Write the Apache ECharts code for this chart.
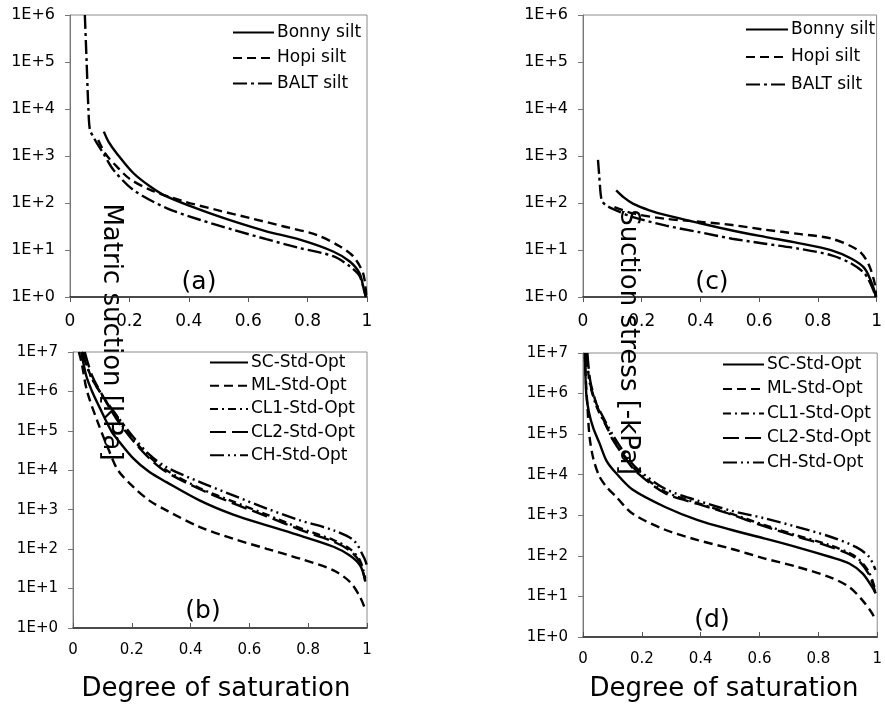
<!DOCTYPE html>
<html>
<head>
<meta charset="utf-8">
<script src="https://cdn.jsdelivr.net/npm/echarts@6/dist/echarts.min.js"></script>
<style>
  html, body { margin: 0; padding: 0; background: #fff; }
  #chart { width: 885px; height: 706px; }
</style>
</head>
<body>
<div id="chart"></div>
<script>
// ---- Panel (a): matric suction of the silts [kPa] vs degree of saturation ----
const satBonnyA  = [0.114, 0.13, 0.157, 0.213, 0.27, 0.325, 0.437, 0.549, 0.661, 0.774, 0.886, 0.942, 0.975, 0.99, 0.997];
const sucBonnyA  = [3300, 2000, 1150, 435, 225, 138, 72, 41, 25, 16.6, 9.3, 5.7, 3.2, 1.4, 1];
const satHopiA   = [0.095, 0.12, 0.157, 0.2, 0.27, 0.38, 0.49, 0.605, 0.717, 0.83, 0.908, 0.953, 0.987, 0.998];
const sucHopiA   = [2200, 1100, 600, 330, 190, 110, 72, 48, 32, 21, 12, 7.4, 3.2, 1];
const satBaltA   = [0.05, 0.056, 0.062, 0.067, 0.078, 0.09, 0.112, 0.146, 0.213, 0.325, 0.437, 0.549, 0.661, 0.774, 0.886, 0.942, 0.975, 0.996];
const sucBaltA   = [1e6, 1e5, 1e4, 3600, 2600, 1900, 1150, 510, 190, 78, 44, 27, 17, 11, 7.4, 4.5, 2.8, 1];

// ---- Panel (c): suction stress of the silts [-kPa] ----
const satBonnyC  = [0.113, 0.14, 0.17, 0.226, 0.283, 0.395, 0.508, 0.62, 0.734, 0.847, 0.915, 0.96, 0.989, 0.997];
const sucBonnyC  = [186, 130, 97, 70, 55, 37.5, 26, 19, 14, 9.8, 6.5, 4, 1.6, 1];
const satHopiC   = [0.107, 0.17, 0.283, 0.395, 0.508, 0.62, 0.734, 0.847, 0.938, 0.972, 0.994, 0.998];
const sucHopiC   = [82, 60, 46, 40, 34, 27, 22, 17.4, 9.8, 5.1, 1.9, 1];
const satBaltC   = [0.051, 0.055, 0.06, 0.065, 0.079, 0.113, 0.17, 0.283, 0.395, 0.508, 0.62, 0.734, 0.847, 0.915, 0.96, 0.989, 0.996];
const sucBaltC   = [830, 400, 160, 110, 89, 70, 50, 33, 24, 17.4, 13.6, 10.7, 7.7, 5.1, 3.1, 1.4, 1];

// ---- Panel (b): matric suction of the compacted soils [kPa] ----
const satScB  = [0.028, 0.045, 0.065, 0.09, 0.13, 0.148, 0.205, 0.26, 0.318, 0.432, 0.545, 0.659, 0.773, 0.886, 0.943, 0.977, 0.994];
const sucScB  = [1e7, 2.5e6, 1e6, 4e5, 1e5, 6.5e4, 2e4, 9000, 5000, 1700, 750, 400, 220, 115, 68, 38, 16];
const satMlB  = [0.02, 0.03, 0.048, 0.085, 0.12, 0.153, 0.205, 0.26, 0.318, 0.432, 0.545, 0.659, 0.773, 0.886, 0.943, 0.977, 0.994];
const sucMlB  = [1e7, 5e6, 1e6, 1.6e5, 3.5e4, 1e4, 3800, 1700, 960, 360, 183, 102, 57, 29, 14.5, 6, 3];
const satCl1B = [0.035, 0.06, 0.095, 0.148, 0.205, 0.26, 0.318, 0.432, 0.545, 0.659, 0.773, 0.886, 0.943, 0.977, 0.994];
const sucCl1B = [1e7, 2.5e6, 9e5, 2.2e5, 6e4, 2.2e4, 1e4, 3500, 1600, 750, 340, 170, 100, 50, 18];
const satCl2B = [0.04, 0.065, 0.1, 0.148, 0.205, 0.26, 0.318, 0.432, 0.545, 0.659, 0.773, 0.886, 0.943, 0.977, 0.994];
const sucCl2B = [1e7, 2.5e6, 8e5, 2e5, 5.5e4, 2e4, 9000, 3300, 1450, 680, 310, 155, 90, 45, 15];
const satChB  = [0.03, 0.06, 0.09, 0.148, 0.205, 0.26, 0.318, 0.432, 0.545, 0.659, 0.773, 0.886, 0.955, 0.989, 0.999];
const sucChB  = [1e7, 2.5e6, 1e6, 2.5e5, 7e4, 2.5e4, 1.2e4, 5000, 2300, 1070, 535, 300, 166, 63, 40];

// ---- Panel (d): suction stress of the compacted soils [-kPa] ----
const satScD  = [0.007, 0.011, 0.02, 0.035, 0.056, 0.08, 0.112, 0.168, 0.279, 0.39, 0.503, 0.615, 0.726, 0.838, 0.905, 0.95, 0.983, 0.994];
const sucScD  = [8e6, 1e6, 3.5e5, 1.4e5, 6e4, 2.2e4, 1.1e4, 4300, 1600, 760, 440, 270, 165, 95, 65, 37, 17, 12];
const satMlD  = [0.006, 0.01, 0.015, 0.022, 0.035, 0.056, 0.08, 0.112, 0.168, 0.279, 0.39, 0.503, 0.615, 0.726, 0.838, 0.905, 0.95, 0.983, 0.994];
const sucMlD  = [1e7, 2e6, 5e5, 9e4, 2.5e4, 9000, 5000, 2900, 1100, 440, 245, 150, 87, 54, 30, 17, 8, 3.8, 2.6];
const satCl1D = [0.012, 0.022, 0.045, 0.075, 0.1, 0.14, 0.18, 0.279, 0.39, 0.503, 0.615, 0.726, 0.838, 0.927, 0.972, 0.994];
const sucCl1D = [1e7, 2e6, 5e5, 1.8e5, 8e4, 3e4, 1.3e4, 3800, 2000, 1100, 580, 320, 185, 95, 40, 14];
const satCl2D = [0.015, 0.025, 0.05, 0.08, 0.1, 0.14, 0.18, 0.279, 0.39, 0.503, 0.615, 0.726, 0.838, 0.927, 0.972, 0.994];
const sucCl2D = [1e7, 2e6, 4.5e5, 1.6e5, 7.5e4, 2.8e4, 1.2e4, 3500, 1900, 1050, 540, 300, 170, 88, 35, 12];
const satChD  = [0.01, 0.02, 0.04, 0.07, 0.1, 0.14, 0.18, 0.279, 0.39, 0.503, 0.615, 0.726, 0.838, 0.927, 0.972, 0.994];
const sucChD  = [1e7, 2.5e6, 7e5, 2.5e5, 1e5, 3.5e4, 1.5e4, 4500, 2300, 1300, 850, 520, 300, 166, 95, 45];

const xTicks = [0, 0.2, 0.4, 0.6, 0.8, 1];
const siltNames = ['Bonny silt', 'Hopi silt', 'BALT silt'];
const soilNames = ['SC-Std-Opt', 'ML-Std-Opt', 'CL1-Std-Opt', 'CL2-Std-Opt', 'CH-Std-Opt'];
const panelTags = ['(a)', '(b)', '(c)', '(d)'];

const FONT = 'DejaVu Sans';
const DASH = {
  solid: 'solid',
  dashed: [9, 5],
  dashDot: [14, 4, 3, 4],
  shortDashDot: [8, 4, 2, 4],
  longDash: [16, 6],
  dashDotDot: [14, 4, 2, 4, 2, 4]
};

const zip = (xs, ys) => xs.map((x, i) => [x, ys[i]]);

// plot rectangles (left, top, width, height) of the four panels
const grids = [
  { left: 70,  top: 15,  width: 297, height: 282 },  // (a)
  { left: 73,  top: 352, width: 294, height: 276 },  // (b)
  { left: 583, top: 15,  width: 295, height: 282 },  // (c)
  { left: 583, top: 353, width: 298, height: 284 }   // (d)
].map(g => Object.assign({ show: true, borderColor: '#8c8c8c', borderWidth: 1, backgroundColor: 'transparent' }, g));

function xAxisFor(idx, ticksInside, fontSize) {
  return {
    type: 'value', gridIndex: idx, min: 0, max: 1, interval: 0.2,
    axisLine: { show: true, onZero: false, lineStyle: { color: '#222', width: 1.5 } },
    axisTick: { show: true, inside: ticksInside, length: 5, lineStyle: { color: '#555' } },
    axisLabel: { show: true, margin: ticksInside ? 15 : 16, fontFamily: FONT, fontSize: fontSize, color: '#000',
      showMinLabel: true, showMaxLabel: true,
      formatter: v => xTicks.includes(Math.round(v * 10) / 10) ? String(Math.round(v * 10) / 10) : '' },
    splitLine: { show: false }
  };
}
function yAxisFor(idx, maxVal, fontSize) {
  return {
    type: 'log', logBase: 10, gridIndex: idx, min: 1, max: maxVal, interval: 1,
    axisLine: { show: true, onZero: false, lineStyle: { color: '#777', width: 1 } },
    axisTick: { show: true, length: 5, lineStyle: { color: '#777' } },
    axisLabel: { margin: 15, fontFamily: FONT, fontSize: fontSize, color: '#000',
      formatter: v => '1E+' + Math.round(Math.log10(v)) },
    minorTick: { show: false },
    splitLine: { show: false }
  };
}

function line(name, idx, xs, ys, dash) {
  return {
    name: name, type: 'line', xAxisIndex: idx, yAxisIndex: idx,
    data: zip(xs, ys), showSymbol: false, symbol: 'none',
    smooth: 0.3,
    lineStyle: { color: '#000', width: 2.4, type: dash, cap: 'butt' },
    itemStyle: { color: '#000' },
    emphasis: { disabled: true }
  };
}

function legendFor(names, left, top, gap, itemWidth) {
  return {
    data: names, orient: 'vertical', left: left, top: top, padding: 0,
    itemGap: gap, itemWidth: itemWidth, itemHeight: 14,
    // the key shows only the line sample, no marker
    itemStyle: { opacity: 0 },
    textStyle: { fontFamily: FONT, fontSize: 17, color: '#000', padding: [0, 0, 0, -2] },
    selectedMode: false
  };
}

function label(text, x, y, size, rot) {
  return {
    type: 'text', x: x, y: y, rotation: rot || 0,
    style: { text: text, fontFamily: FONT, fontSize: size, fill: '#000', align: 'center', verticalAlign: 'middle' }
  };
}

const option = {
  animation: false,
  backgroundColor: '#fff',
  grid: grids,
  xAxis: [xAxisFor(0, false, 17), xAxisFor(1, true, 15), xAxisFor(2, false, 17), xAxisFor(3, true, 15)],
  yAxis: [yAxisFor(0, 1e6, 16), yAxisFor(1, 1e7, 15), yAxisFor(2, 1e6, 16), yAxisFor(3, 1e7, 15)],
  legend: [
    legendFor(siltNames, 232, 24, 8.5, 41),
    legendFor(soilNames, 209, 354, 6.2, 38),
    legendFor(siltNames, 745, 21, 10.5, 42),
    legendFor(soilNames, 722, 356, 7.5, 41)
  ],
  series: [
    line('Bonny silt', 0, satBonnyA, sucBonnyA, DASH.solid),
    line('Hopi silt', 0, satHopiA, sucHopiA, DASH.dashed),
    line('BALT silt', 0, satBaltA, sucBaltA, DASH.dashDot),

    line('SC-Std-Opt', 1, satScB, sucScB, DASH.solid),
    line('ML-Std-Opt', 1, satMlB, sucMlB, DASH.dashed),
    line('CL1-Std-Opt', 1, satCl1B, sucCl1B, DASH.shortDashDot),
    line('CL2-Std-Opt', 1, satCl2B, sucCl2B, DASH.longDash),
    line('CH-Std-Opt', 1, satChB, sucChB, DASH.dashDotDot),

    line('Bonny silt', 2, satBonnyC, sucBonnyC, DASH.solid),
    line('Hopi silt', 2, satHopiC, sucHopiC, DASH.dashed),
    line('BALT silt', 2, satBaltC, sucBaltC, DASH.dashDot),

    line('SC-Std-Opt', 3, satScD, sucScD, DASH.solid),
    line('ML-Std-Opt', 3, satMlD, sucMlD, DASH.dashed),
    line('CL1-Std-Opt', 3, satCl1D, sucCl1D, DASH.shortDashDot),
    line('CL2-Std-Opt', 3, satCl2D, sucCl2D, DASH.longDash),
    line('CH-Std-Opt', 3, satChD, sucChD, DASH.dashDotDot)
  ],
  graphic: [
    label(panelTags[0], 199, 282, 25),
    label(panelTags[1], 203, 611, 25),
    label(panelTags[2], 712, 282, 25),
    label(panelTags[3], 712, 620, 25),
    label('Matric suction [kPa]', 111, 332, 26, -Math.PI / 2),
    label('Suction stress [-kPa]', 628, 342, 26, -Math.PI / 2),
    label('Degree of saturation', 216, 689, 26),
    label('Degree of saturation', 724, 689, 26)
  ]
};

const chart = echarts.init(document.getElementById('chart'), null, { renderer: 'canvas' });
chart.setOption(option);
</script>
</body>
</html>
